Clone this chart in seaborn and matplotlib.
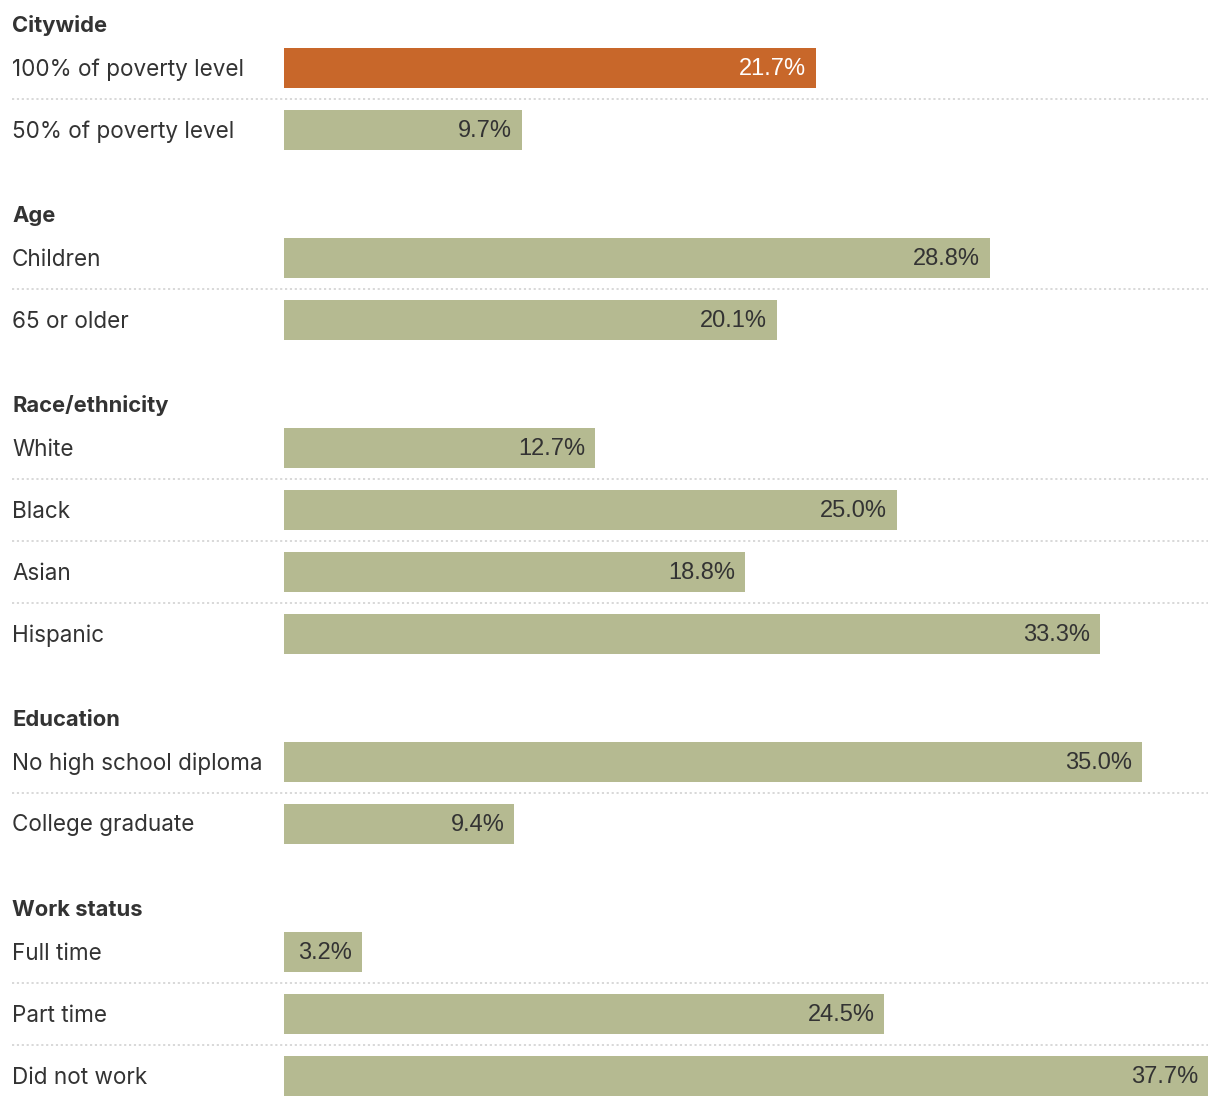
import matplotlib
matplotlib.use("Agg")
import matplotlib.pyplot as plt
import matplotlib.transforms as mtransforms
import seaborn as sns
import pandas as pd

# ---- data ----
groups = ["Citywide", "Age", "Race/ethnicity", "Education", "Work status"]
group_labels = [
    ["100% of poverty level", "50% of poverty level"],
    ["Children", "65 or older"],
    ["White", "Black", "Asian", "Hispanic"],
    ["No high school diploma", "College graduate"],
    ["Full time", "Part time", "Did not work"],
]
group_values = [
    [21.7, 9.7],
    [28.8, 20.1],
    [12.7, 25.0, 18.8, 33.3],
    [35.0, 9.4],
    [3.2, 24.5, 37.7],
]
highlight_label = "100% of poverty level"

# ---- style ----
sns.set_theme(style="white")
plt.rcParams["font.family"] = ["Inter", "DejaVu Sans"]

W, H = 1220, 1106
DPI = 100
ORANGE = "#C8672A"
OLIVE = "#B5BA91"
TEXT = "#333333"

# layout (pixel units along y)
HEADER_TO_BAR = 44
ROW_STEP = 62
BAR_TO_HEADER = 84
FIRST_HEADER = 24
BAR_H = 40

rows = []
headers = []
separators = []
y = FIRST_HEADER
for g, labs, vals in zip(groups, group_labels, group_values):
    headers.append((g, y))
    y += HEADER_TO_BAR
    for i, (lab, v) in enumerate(zip(labs, vals)):
        rows.append({"label": lab, "value": v, "pos": y,
                     "kind": "hi" if lab == highlight_label else "lo"})
        if i < len(labs) - 1:
            separators.append(y + ROW_STEP / 2)
            y += ROW_STEP
    y += BAR_TO_HEADER

df = pd.DataFrame(rows)

fig = plt.figure(figsize=(W / DPI, H / DPI), dpi=DPI)
fig.patch.set_facecolor("white")
x0, x1 = 284, 1208
ax = fig.add_axes([x0 / W, 0, (x1 - x0) / W, 1])
xmax = max(df["value"])

sns.barplot(data=df, x="value", y="pos", hue="kind", orient="h",
            native_scale=True, palette={"hi": ORANGE, "lo": OLIVE},
            width=BAR_H / ROW_STEP, dodge=False, legend=False,
            saturation=1, ax=ax, linewidth=0, errorbar=None)

ax.set_xlim(0, xmax)
ax.set_ylim(H, 0)
ax.axis("off")

lab_tr = mtransforms.offset_copy(
    mtransforms.blended_transform_factory(fig.transFigure, ax.transData),
    fig=fig, x=0, y=-1.5, units="dots")
sep_tr = mtransforms.blended_transform_factory(fig.transFigure, ax.transData)

for _, r in df.iterrows():
    ax.text(12 / W, r["pos"], r["label"], transform=lab_tr, ha="left",
            va="center", fontsize=16.2, color=TEXT)
    off = mtransforms.offset_copy(ax.transData, fig=fig, x=-10, y=-1, units="dots")
    ax.text(r["value"], r["pos"], f"{r['value']:.1f}%", transform=off,
            ha="right", va="center", fontsize=17,
            family=["Liberation Sans", "DejaVu Sans"],
            color="white" if r["kind"] == "hi" else TEXT)

for g, yy in headers:
    ax.text(12 / W, yy, g, transform=lab_tr, ha="left", va="center",
            fontsize=15.8, fontweight="bold", color=TEXT)

for s in separators:
    ax.plot([12 / W, x1 / W], [s, s], transform=sep_tr, color="#d6d6d6",
            lw=1.3, ls=(0, (1.2, 1.5)), clip_on=False)

fig.savefig("out.png", dpi=DPI, facecolor="white")
